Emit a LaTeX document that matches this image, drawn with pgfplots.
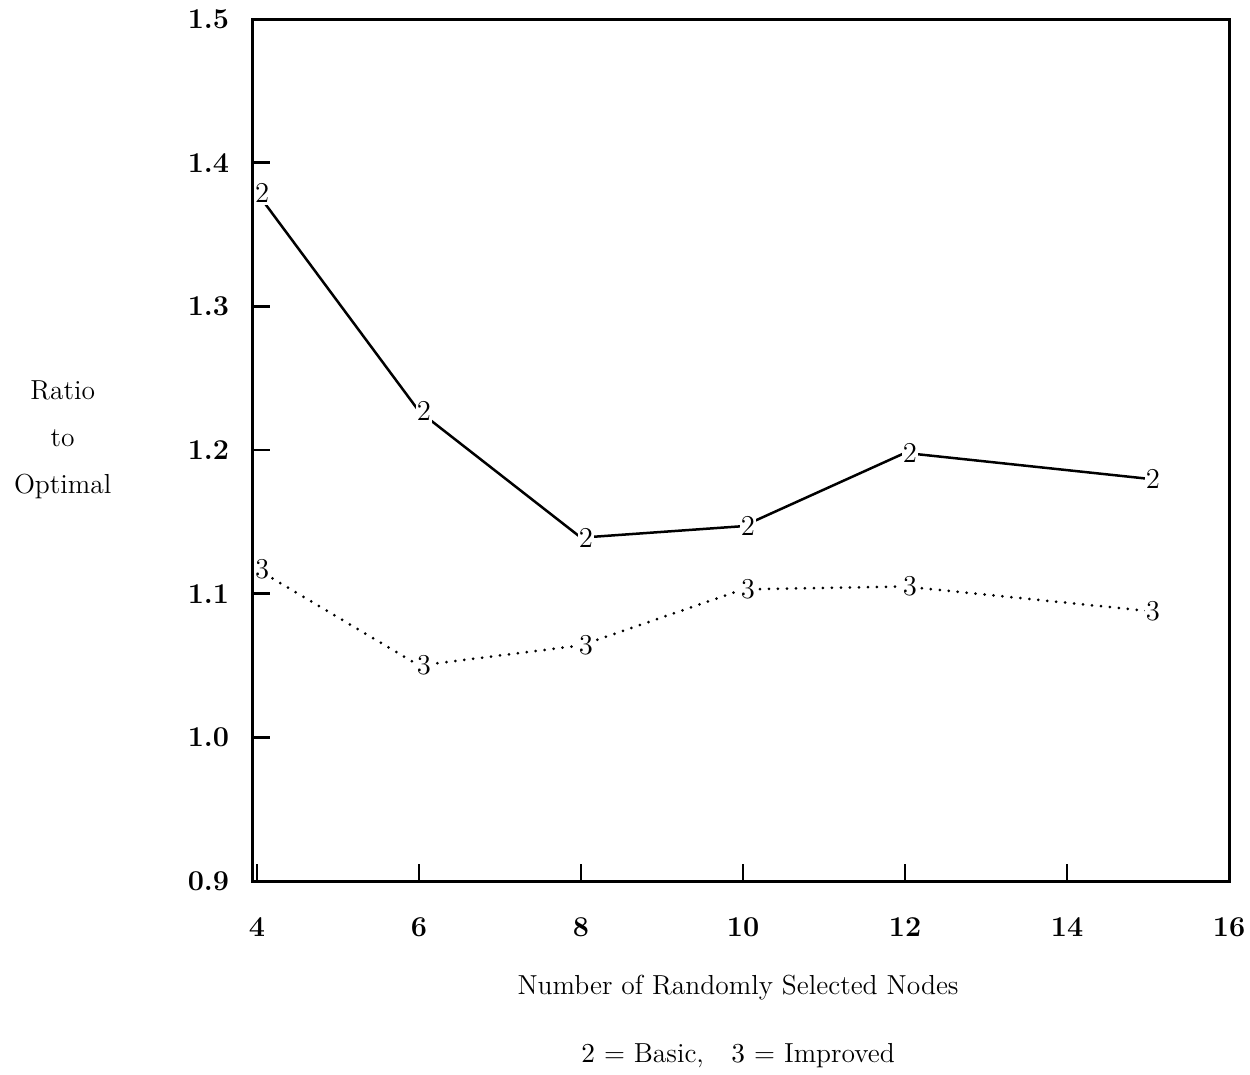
\documentclass[border=0pt]{standalone}
\usepackage{pgfplots}
\pgfplotsset{compat=1.18}
\begin{document}
\begin{tikzpicture}
\begin{axis}[
  axis on top,
  scale only axis,
  width=390.4pt, height=344.8pt,
  xmin=3.95, xmax=16, ymin=0.9, ymax=1.5,
  xtick={4,6,8,10,12,14,16},
  ytick={0.9,1.0,1.1,1.2,1.3,1.4,1.5},
  xtick pos=bottom, ytick pos=left,
  tick align=inside,
  major tick length=7pt,
  axis line style={line width=1.2pt},
  every tick/.style={line width=1pt, black},
  /pgf/number format/assume math mode=true,
  tick label style={font=\fontsize{11.5}{13}\selectfont\bfseries},
  yticklabel style={/pgf/number format/fixed, /pgf/number format/fixed zerofill, /pgf/number format/precision=1, xshift=-6pt},
  xticklabel style={yshift=-11pt},
  clip=false,
]
\addplot[black, line width=1pt, mark=text, text mark={2}, text mark as node=true,
  text mark style={font=\fontsize{11.5}{13}\selectfont, fill=white, inner xsep=0.2pt, inner ysep=1pt, xshift=2pt},
  mark options={solid}]
  coordinates {(4,1.379) (6,1.227) (8,1.139) (10,1.147) (12,1.198) (15,1.180)};
\addplot[black, line width=1.2pt, line cap=round, dash pattern=on 0pt off 3.6pt, mark=text, text mark={3}, text mark as node=true,
  text mark style={font=\fontsize{11.5}{13}\selectfont, fill=white, inner xsep=0.2pt, inner ysep=1pt, xshift=2pt},
  mark options={solid}]
  coordinates {(4,1.117) (6,1.050) (8,1.064) (10,1.103) (12,1.105) (15,1.088)};
\coordinate (O) at (rel axis cs:0,0);
\node[font=\fontsize{11}{18.8}\selectfont, align=center] at (rel axis cs:-0.195,0.512) {Ratio\\to\\Optimal};
\node[font=\fontsize{11}{13}\selectfont] at (rel axis cs:0.497,-0.124) {Number of Randomly Selected Nodes};
\node[font=\fontsize{11}{13}\selectfont] at (rel axis cs:0.497,-0.202) {$2$ = Basic,\quad $3$ = Improved};
\end{axis}
\pgfresetboundingbox
\path (O) ++(-101.2pt,-77.2pt) rectangle ([shift={(398.8pt,352.4pt)}]O);
\end{tikzpicture}
\end{document}
